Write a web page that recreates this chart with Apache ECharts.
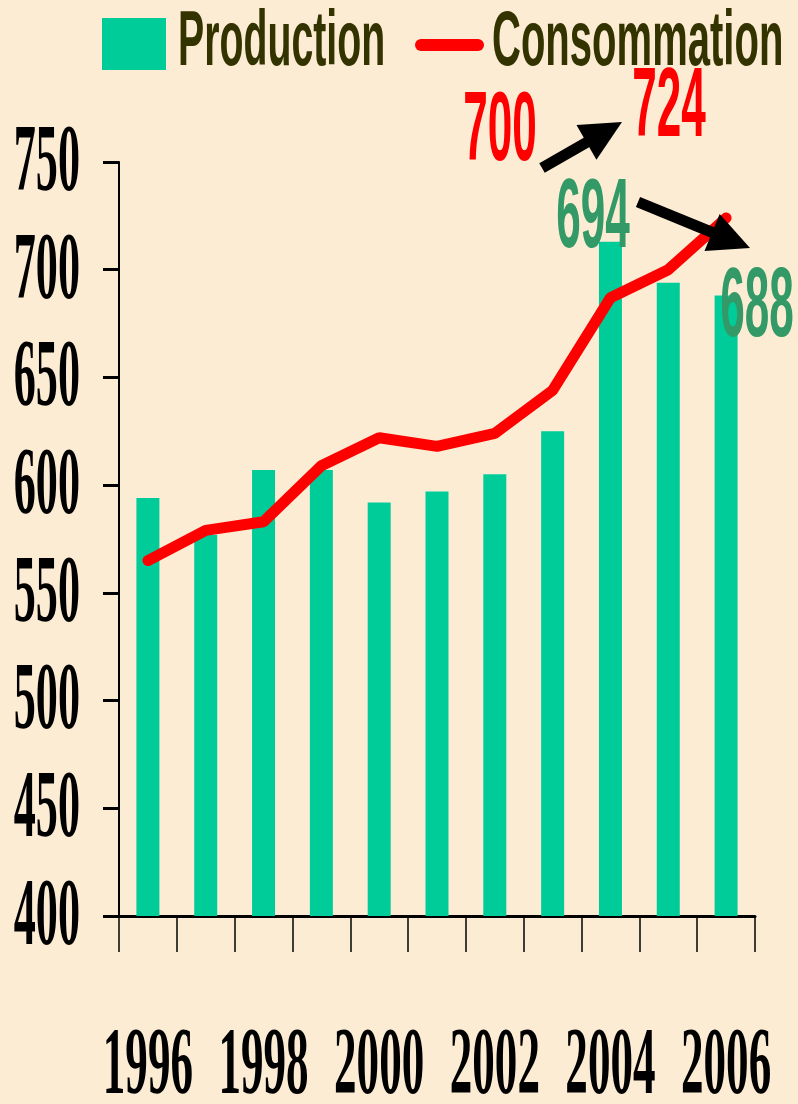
<!DOCTYPE html>
<html>
<head>
<meta charset="utf-8">
<script src="https://cdn.jsdelivr.net/npm/echarts@6.0.0/dist/echarts.min.js"></script>
<style>
html, body { margin: 0; padding: 0; background: #fcecd4; }
#chart { width: 798px; height: 1104px; }
</style>
</head>
<body>
<div id="chart"></div>
<script>
// data
const years = ['1996', '1997', '1998', '1999', '2000', '2001', '2002', '2003', '2004', '2005', '2006'];
const production = [594, 577, 607, 607, 592, 597, 605, 625, 713, 694, 688];
const consommation = [565, 579, 583, 609, 622, 618, 624, 644, 687, 700, 724];
const yTicks = [400, 450, 500, 550, 600, 650, 700, 750];
const yearLabels = ['1996', '1998', '2000', '2002', '2004', '2006'];
const seriesNames = ['Production', 'Consommation'];

const barColor = '#00cc99';
const lineColor = '#ff0000';

const chart = echarts.init(document.getElementById('chart'));
chart.setOption({
  backgroundColor: '#fcecd4',
  animation: false,
  grid: { left: 119, right: 43, top: 162, bottom: 188 },
  xAxis: {
    type: 'category',
    data: years,
    boundaryGap: true,
    axisLine: { lineStyle: { color: '#000', width: 3 } },
    axisTick: { show: true, interval: 0, length: 36, lineStyle: { color: '#000', width: 1.5 } },
    axisLabel: { show: false }
  },
  yAxis: {
    type: 'value',
    min: 400,
    max: 750,
    interval: 50,
    axisLine: { show: true, lineStyle: { color: '#000', width: 2 } },
    axisTick: { show: true, length: 16, lineStyle: { color: '#000', width: 3 } },
    axisLabel: { show: false },
    splitLine: { show: false }
  },
  series: [
    {
      name: seriesNames[0],
      type: 'bar',
      barWidth: 23,
      itemStyle: { color: barColor },
      data: production
    },
    {
      name: seriesNames[1],
      type: 'line',
      symbol: 'none',
      z: 5,
      lineStyle: { color: lineColor, width: 11, cap: 'round' },
      data: consommation
    }
  ]
});

const px = i => chart.convertToPixel({ xAxisIndex: 0 }, years[i]);
const py = v => chart.convertToPixel({ yAxisIndex: 0 }, v);

function label(text, x, y, opts) {
  return {
    type: 'text',
    x: x,
    y: y,
    scaleX: opts.scaleX,
    z: 100,
    style: {
      text: text,
      font: opts.font,
      fill: opts.fill || '#000',
      align: opts.align || 'center',
      verticalAlign: 'middle'
    }
  };
}

function arrow(x1, y1, x2, y2) {
  const len = Math.hypot(x2 - x1, y2 - y1);
  const dx = (x2 - x1) / len, dy = (y2 - y1) / len;
  const L = 41, W = 20;
  const bx = x2 - dx * L, by = y2 - dy * L;
  return [
    { type: 'line', z: 100, shape: { x1: x1, y1: y1, x2: bx + dx * 2, y2: by + dy * 2 },
      style: { stroke: '#000', lineWidth: 11 } },
    { type: 'polygon', z: 100,
      shape: { points: [[x2, y2], [bx - dy * W, by + dx * W], [bx + dy * W, by - dx * W]] },
      style: { fill: '#000' } }
  ];
}

const serifFont = 'bold 96px "Liberation Serif"';
const sansFont = 'bold 98px "Liberation Sans"';
const graphics = [];

// tick labels
yTicks.forEach(v => {
  graphics.push(label(String(v), 80, py(v) + 3, { font: serifFont, scaleX: 0.46, align: 'right' }));
});
yearLabels.forEach(y => {
  graphics.push(label(y, px(years.indexOf(y)), 1068, { font: serifFont, scaleX: 0.47 }));
});

// legend
graphics.push({ type: 'rect', z: 100, shape: { x: 102, y: 18, width: 64, height: 52 }, style: { fill: barColor } });
graphics.push(label(seriesNames[0], 178, 44, { font: 'bold 77px "Liberation Sans"', scaleX: 0.51, align: 'left', fill: '#333300' }));
graphics.push({ type: 'line', z: 100, shape: { x1: 421, y1: 45, x2: 478, y2: 45 },
  style: { stroke: lineColor, lineWidth: 12, lineCap: 'round' } });
graphics.push(label(seriesNames[1], 492, 44, { font: 'bold 77px "Liberation Sans"', scaleX: 0.52, align: 'left', fill: '#333300' }));

// annotations
graphics.push(label(String(consommation[9]), 500, 133, { font: sansFont, scaleX: 0.45, fill: '#ff0000' }));
graphics.push(label(String(consommation[10]), 669, 109, { font: sansFont, scaleX: 0.45, fill: '#ff0000' }));
graphics.push(label(String(production[9]), 593, 220, { font: sansFont, scaleX: 0.45, fill: '#339966' }));
graphics.push(label(String(production[10]), 757, 309, { font: sansFont, scaleX: 0.45, fill: '#339966' }));
graphics.push(...arrow(542, 168, 622, 122));
graphics.push(...arrow(638, 202, 750, 248));

chart.setOption({ graphic: graphics });
</script>
</body>
</html>
